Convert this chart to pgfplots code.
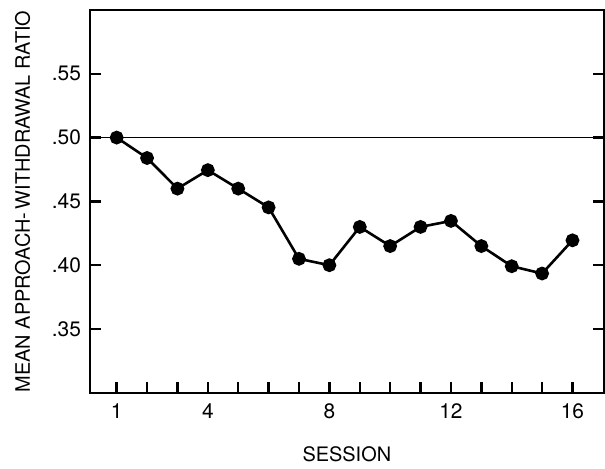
\documentclass[border=0pt]{standalone}
\usepackage{pgfplots}
\pgfplotsset{compat=1.18}
\usepackage{fontspec}
\setmainfont{TeX Gyre Heros}
\begin{document}
\begin{tikzpicture}
\begin{axis}[
  scale only axis,
  width=257bp, height=191.5bp,
  xmin=0.12, xmax=17.03,
  ymin=0.30, ymax=0.60,
  axis line style={line width=1.2bp},
  tick style={line width=1.2bp, black},
  tick align=inside,
  major tick length=5.5bp,
  xtick pos=lower,
  ytick pos=both,
  xtick={1,2,...,16},
  xticklabels={1,,,4,,,,8,,,,12,,,,16},
  ytick={0.35,0.40,0.45,0.50,0.55},
  yticklabels={.35,.40,.45,.50,.55},
  tick label style={font=\fontsize{10.5}{12}\selectfont},
  xticklabel style={yshift=-2bp},
  yticklabel style={xshift=-1bp},
  xlabel={SESSION},
  ylabel={MEAN APPROACH-\,WITHDRAWAL RATIO},
  label style={font=\fontsize{10}{12}\selectfont},
  xlabel style={yshift=-7bp},
  ylabel style={yshift=4bp},
  clip=false,
]
\addplot[black, line width=0.8bp, no marks] coordinates {(0.12,0.50) (17.03,0.50)};
\addplot[black, line width=1.3bp, mark=*, mark size=2.8bp] coordinates {
(1,0.500) (2,0.484) (3,0.460) (4,0.4745) (5,0.460) (6,0.4453) (7,0.405) (8,0.400)
(9,0.430) (10,0.415) (11,0.430) (12,0.4347) (13,0.415) (14,0.3992) (15,0.3935) (16,0.4195)
};
\path (rel axis cs:-0.175,-0.196) rectangle (rel axis cs:1.002,1.026);
\end{axis}
\end{tikzpicture}
\end{document}
